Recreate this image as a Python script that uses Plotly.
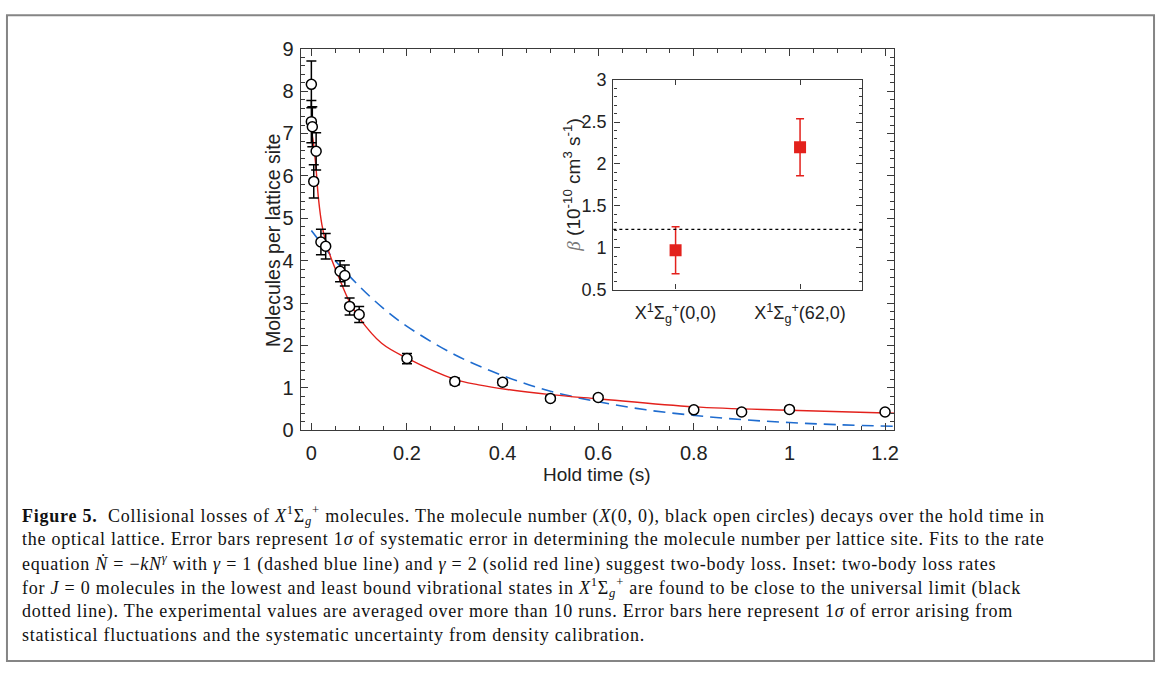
import plotly.graph_objects as go

W, H = 1165, 675

# ---- main data: molecules per lattice site vs hold time ----
hold_time = [0.0, 0.0, 0.002, 0.010, 0.005, 0.020, 0.030, 0.060, 0.070, 0.080,
             0.10, 0.20, 0.30, 0.40, 0.50, 0.60, 0.80, 0.90, 1.00, 1.20]
molecules = [8.16, 7.28, 7.16, 6.58, 5.87, 4.44, 4.34, 3.75, 3.65, 2.92,
             2.73, 1.69, 1.15, 1.13, 0.75, 0.77, 0.48, 0.43, 0.49, 0.43]
mol_err = [0.55, 0.50, 0.47, 0.44, 0.39, 0.30, 0.30, 0.25, 0.25, 0.20,
           0.19, 0.12, 0.08, 0.07, 0.05, 0.05, 0.04, 0.04, 0.04, 0.03]

# two-body fit (solid red)
red_t = [0.001, 0.004, 0.007, 0.010, 0.015, 0.022, 0.030, 0.040, 0.057, 0.080,
         0.10, 0.147, 0.20, 0.30, 0.35, 0.41, 0.50, 0.60, 0.80, 1.00, 1.22]
red_n = [7.0, 6.8, 6.5, 6.15, 5.45, 4.85, 4.45, 4.1, 3.62, 3.02,
         2.65, 2.05, 1.70, 1.20, 1.07, 0.96, 0.84, 0.74, 0.55, 0.47, 0.40]

# one-body fit (dashed blue)
blue_t = [0.0, 0.05, 0.10, 0.15, 0.20, 0.30, 0.40, 0.50, 0.60, 0.70, 0.80,
          0.90, 1.00, 1.10, 1.22]
blue_n = [4.71, 4.0, 3.4, 2.88, 2.45, 1.78, 1.29, 0.92, 0.67, 0.48, 0.35,
          0.25, 0.18, 0.13, 0.09]

# ---- inset data ----
inset_pos = [1, 2]
inset_labels = ["X<sup>1</sup>Σ<sub>g</sub><sup>+</sup>(0,0)",
                "X<sup>1</sup>Σ<sub>g</sub><sup>+</sup>(62,0)"]
beta = [0.97, 2.20]
beta_plus = [0.28, 0.34]
beta_minus = [0.28, 0.34]
universal_limit = 1.22

x_ticks = [0, 0.2, 0.4, 0.6, 0.8, 1.0, 1.2]
x_ticklabels = ["0", "0.2", "0.4", "0.6", "0.8", "1", "1.2"]
y_ticks = [0, 1, 2, 3, 4, 5, 6, 7, 8, 9]
inset_yticks = [0.5, 1, 1.5, 2, 2.5, 3]
inset_yticklabels = ["0.5", "1", "1.5", "2", "2.5", "3"]

RED = "#e3211c"
BLUE = "#1f6ccf"
AX = "#3a3a3a"
SANS = "Liberation Sans, Arial, sans-serif"
SERIF = "Liberation Serif, Times New Roman, serif"


def px(x):
    return x / W


def py(y):
    return 1 - y / H


fig = go.Figure()

fig.add_trace(go.Scatter(x=blue_t, y=blue_n, mode="lines", line_shape="spline",
                         line=dict(color=BLUE, width=1.6, dash="12px,7px"),
                         hoverinfo="skip", showlegend=False))
fig.add_trace(go.Scatter(x=red_t, y=red_n, mode="lines", line_shape="spline",
                         line=dict(color=RED, width=1.4),
                         hoverinfo="skip", showlegend=False))
fig.add_trace(go.Scatter(x=hold_time, y=molecules, mode="markers",
                         marker=dict(symbol="circle", size=10, color="white",
                                     line=dict(color="black", width=1.5)),
                         error_y=dict(type="data", array=mol_err, color="black",
                                      thickness=1.5, width=5),
                         showlegend=False))

fig.add_trace(go.Scatter(x=inset_pos, y=beta, mode="markers", xaxis="x2", yaxis="y2",
                         marker=dict(symbol="square", size=12, color=RED),
                         error_y=dict(type="data", array=beta_plus, arrayminus=beta_minus,
                                      color=RED, thickness=1.5, width=4),
                         showlegend=False))

axis_common = dict(showline=True, linecolor=AX, linewidth=1.3, mirror="allticks",
                   ticks="inside", tickcolor=AX, showgrid=False, zeroline=False)
MAIN_TF = dict(family=SANS, size=20, color="#222")
INSET_TF = dict(family=SANS, size=18, color="#222")

fig.update_layout(
    width=W, height=H, margin=dict(l=0, r=0, t=0, b=0),
    paper_bgcolor="white", plot_bgcolor="white",
    xaxis=dict(domain=[px(302), px(898)], range=[-0.0223, 1.219],
               tickvals=x_ticks, ticktext=x_ticklabels, ticklen=7, tickwidth=1.2,
               minor=dict(dtick=0.05, tick0=0, ticks="inside", ticklen=4, tickcolor=AX),
               tickfont=MAIN_TF, ticklabelstandoff=5,
               anchor="y", **axis_common),
    yaxis=dict(domain=[py(433.3), py(39)], range=[0, 9],
               tickvals=y_ticks, ticklen=7, tickwidth=1.2,
               minor=dict(dtick=0.2, tick0=0, ticks="inside", ticklen=4, tickcolor=AX),
               tickfont=MAIN_TF, ticklabelstandoff=2,
               anchor="x", **axis_common),
    xaxis2=dict(domain=[px(616), px(866)], range=[0.5, 2.5],
                tickvals=inset_pos, ticktext=inset_labels, ticklen=5, tickwidth=1.2,
                tickfont=INSET_TF, ticklabelstandoff=7,
                anchor="y2", **axis_common),
    yaxis2=dict(domain=[py(288), py(71.5)], range=[0.5, 3],
                tickvals=inset_yticks, ticktext=inset_yticklabels, ticklen=6, tickwidth=1.2,
                minor=dict(dtick=0.1, tick0=0.5, ticks="inside", ticklen=3, tickcolor=AX),
                tickfont=INSET_TF, ticklabelstandoff=2,
                anchor="x2", **axis_common),
)

# universal limit dotted line in inset
fig.add_shape(type="line", xref="x2 domain", yref="y2", x0=0, x1=1,
              y0=universal_limit, y1=universal_limit,
              line=dict(color="black", width=1.2, dash="dot"))

# outer border
fig.add_shape(type="rect", xref="paper", yref="paper",
              x0=px(7), x1=px(1159), y0=py(672), y1=py(4.5),
              line=dict(color="#858585", width=2), layer="below")

# axis titles
fig.add_annotation(x=px(600), y=py(479), xref="paper", yref="paper",
                   xanchor="center", yanchor="middle",
                   text="Hold time (s)", showarrow=False,
                   font=dict(family=SANS, size=19, color="#222"))
fig.add_annotation(x=px(274), y=py(237), xref="paper", yref="paper",
                   xanchor="center", yanchor="middle",
                   text="Molecules per lattice site", showarrow=False, textangle=-90,
                   font=dict(family=SANS, size=19.5, color="#222"))
fig.add_annotation(x=px(575), y=py(180), xref="paper", yref="paper",
                   xanchor="center", yanchor="middle",
                   text="<span style='font-family:Liberation Serif;color:#777'><i>β</i></span> (10<sup>-10</sup> cm<sup>3</sup> s<sup>-1</sup>)",
                   showarrow=False, textangle=-90,
                   font=dict(family=SANS, size=19, color="#222"))

caption_lines = [
    "<b>Figure 5.</b>  Collisional losses of <i>X</i><sup>1</sup>Σ<sub><i>g</i></sub><sup>+</sup> molecules. The molecule number (<i>X</i>(0, 0), black open circles) decays over the hold time in",
    "the optical lattice. Error bars represent 1<i>σ</i> of systematic error in determining the molecule number per lattice site. Fits to the rate",
    "equation <i>Ṅ</i> = −<i>kN</i><sup><i>γ</i></sup> with <i>γ</i> = 1 (dashed blue line) and <i>γ</i> = 2 (solid red line) suggest two-body loss. Inset: two-body loss rates",
    "for <i>J</i> = 0 molecules in the lowest and least bound vibrational states in <i>X</i><sup>1</sup>Σ<sub><i>g</i></sub><sup>+</sup> are found to be close to the universal limit (black",
    "dotted line). The experimental values are averaged over more than 10 runs. Error bars here represent 1<i>σ</i> of error arising from",
    "statistical fluctuations and the systematic uncertainty from density calibration.",
]
caption_y = [521, 546, 571, 596, 620.5, 645]
for line, yy in zip(caption_lines, caption_y):
    fig.add_annotation(x=px(20), y=py(yy), xref="paper", yref="paper",
                       xanchor="left", yanchor="middle", align="left",
                       text="<span style='letter-spacing:0.75px'>" + line + "</span>",
                       showarrow=False,
                       font=dict(family=SERIF, size=18, color="#111"))

fig.write_html("out.html")
